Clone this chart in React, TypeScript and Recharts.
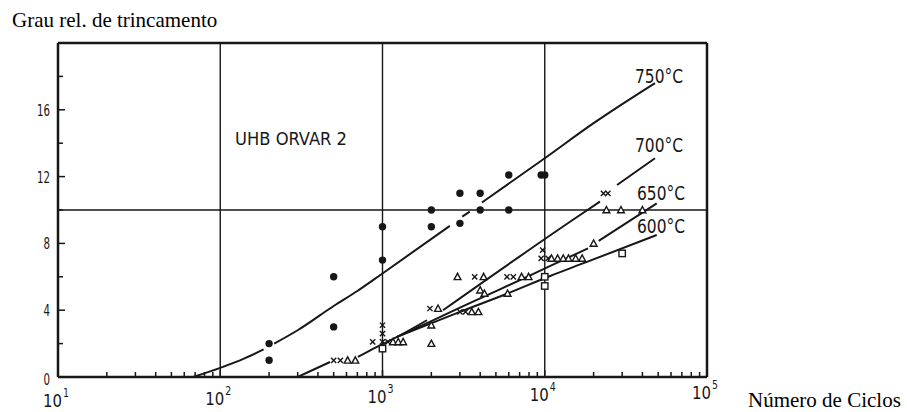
import { ComposedChart, Line, Scatter, XAxis, YAxis, ReferenceLine } from 'recharts'

const ink = '#171717'
const numFont = "'DejaVu Sans Condensed', 'Liberation Sans Narrow', 'DejaVu Sans', sans-serif"
const serif = "'Liberation Serif', 'Times New Roman', serif"

// axes
const xMajor = [10, 100, 1000, 10000, 100000]
const xExponents = ['1', '2', '3', '4', '5']
const xMinorSteps = [2, 3, 4, 5, 6, 7, 8, 9]
const yTicks = [0, 2, 4, 6, 8, 10, 12, 14, 16, 18]
const yLabels = [0, 4, 8, 12, 16]
const gridX = [100, 1000, 10000]
const gridY = [10]

const xTicks = [...xMajor, ...xMajor.slice(0, 4).flatMap(d => xMinorSteps.map(s => d * s))].sort((a, b) => a - b)

// fitted curves, null = gap in the drawn line
const curve750: [number, number | null][] = [
  [68, 0], [100, 0.55], [140, 1.1], [185, 1.65], [200, null], [215, 2.0], [300, 2.8], [500, 4.25],
  [700, 5.15], [1000, 6.2], [2600, 9.05], [2800, null], [3100, 9.6], [3450, 9.9], [3800, null],
  [4100, 10.45], [10000, 13.1], [20000, 15.2], [47800, 17.6],
]
const curve700: [number, number | null][] = [
  [300, 0], [475, 0.9], [600, null], [706, 1.2], [925, 1.8], [1230, 2.4], [1880, 3.4], [2100, null],
  [2360, 4.0], [16500, 9.7], [21900, 10.5], [24000, null], [27900, 11.5], [47800, 13.1],
]
const curve650: [number, number | null][] = [
  [1230, 2.4], [2000, 3.35], [3500, 4.45], [8200, 6.1], [12900, 7.0], [18500, 7.7], [20000, null],
  [21500, 8.15], [49000, 10.4],
]
const curve600: [number, number | null][] = [
  [1230, 2.4], [3000, 3.9], [5900, 5.0], [10800, 6.05], [17200, 6.8], [49000, 8.5],
]

// measured points
const dots750: [number, number][] = [
  [200, 1], [200, 2], [500, 3], [500, 6], [1000, 7], [1000, 9], [2000, 9], [2000, 10], [3000, 9.2],
  [3000, 11], [4000, 10], [4000, 11], [6000, 10], [6000, 12.1], [9500, 12.1], [10000, 12.1],
]
const crosses700: [number, number][] = [
  [500, 1.0], [550, 1.0], [870, 2.1], [1000, 2.1], [1000, 2.6], [1000, 3.1], [1080, 2.1], [1960, 4.1],
  [3000, 3.9], [3250, 3.9], [3700, 6.0], [5850, 6.0], [6400, 6.0], [9500, 7.1], [9700, 7.6],
  [10500, 7.1], [23000, 11], [24500, 11],
]
const triangles650: [number, number][] = [
  [610, 1.0], [680, 1.0], [1160, 2.1], [1250, 2.1], [1340, 2.1], [2000, 2.0], [2000, 3.1], [2200, 4.1],
  [2900, 6.0], [3550, 3.9], [3900, 3.9], [4000, 5.2], [4250, 5.0], [4200, 6.0], [5900, 5.0],
  [7200, 6.0], [7950, 6.0], [11000, 7.1], [12000, 7.1], [13000, 7.1], [14000, 7.1], [15500, 7.1],
  [17000, 7.1], [20000, 8.0], [24000, 10], [29500, 10], [40000, 10],
]
const squares600: [number, number][] = [
  [1000, 1.7], [10000, 6.0], [10000, 5.45], [30000, 7.4],
]

const pts = (a: [number, number | null][]) => a.map(([x, y]) => ({ x, y }))

const Dot = (p: any) => <circle cx={p.cx} cy={p.cy} r={3.7} fill={ink} />
const Cross = (p: any) => {
  const s = 2.6
  return <path d={`M${p.cx - s},${p.cy - s}L${p.cx + s},${p.cy + s}M${p.cx + s},${p.cy - s}L${p.cx - s},${p.cy + s}`} stroke={ink} strokeWidth={1.4} />
}
const Tri = (p: any) => (
  <path d={`M${p.cx},${p.cy - 3.5}L${p.cx + 3.4},${p.cy + 2.8}L${p.cx - 3.4},${p.cy + 2.8}Z`} fill="#fff" stroke={ink} strokeWidth={1.4} />
)
const Square = (p: any) => (
  <rect x={p.cx - 3.2} y={p.cy - 3.2} width={6.4} height={6.4} fill="#fff" stroke={ink} strokeWidth={1.4} />
)

const XTick = (p: any) => {
  const v = p.payload.value
  const i = xMajor.indexOf(v)
  const base = p.y + 30 - 2 * i
  return (
    <g>
      {v > 10 && v < 100000 && (
        <line x1={p.x} x2={p.x} y1={p.y} y2={p.y - (i >= 0 ? 7 : 5)} stroke={ink} strokeWidth={1.5} />
      )}
      {i >= 0 && (
        <>
          <text x={p.x - 15} y={base} fontFamily={numFont} fill={ink} fontSize={18}
            textLength={19} lengthAdjust="spacingAndGlyphs">10</text>
          <text x={p.x + 5} y={base - 10} fontFamily={numFont} fill={ink} fontSize={12}
            textLength={6} lengthAdjust="spacingAndGlyphs">{xExponents[i]}</text>
        </>
      )}
    </g>
  )
}

const YTick = (p: any) => {
  const v = p.payload.value
  const major = yLabels.includes(v)
  const label = String(v)
  return (
    <g>
      {v > 0 && <line x1={p.x} x2={p.x + (major ? 7 : 5)} y1={p.y} y2={p.y} stroke={ink} strokeWidth={1.5} />}
      {major && (
        <text x={p.x - 8} y={p.y + (v === 0 ? 8 : 6)} textAnchor="end" fontFamily={numFont} fontSize={16} fill={ink}
          textLength={label.length * 6.5} lengthAdjust="spacingAndGlyphs">
          {label}
        </text>
      )}
    </g>
  )
}

const tempLabels = ['750°C', '700°C', '650°C', '600°C']
const tempLabelPos = [[635, 83], [635, 152], [637, 200], [637, 233]]

export default function App() {
  return (
    <div style={{ position: 'absolute', left: 0, top: 0, width: 907, height: 412, background: '#fff' }}>
      <ComposedChart width={907} height={412} margin={{ top: 43, right: 200, bottom: 0, left: 18 }}>
        <XAxis
          type="number" dataKey="x" scale="log" domain={[10, 100000]} allowDataOverflow
          ticks={xTicks} interval={0} height={35} tickSize={0} tickMargin={0} tickLine={false}
          axisLine={{ stroke: ink, strokeWidth: 2.5 }} tick={(p: any) => <XTick {...p} />}
        />
        <YAxis
          type="number" dataKey="y" domain={[0, 20]} allowDataOverflow
          ticks={yTicks} interval={0} width={40} tickSize={0} tickMargin={0} tickLine={false}
          axisLine={{ stroke: ink, strokeWidth: 2.5 }} tick={(p: any) => <YTick {...p} />}
        />
        {gridX.map(v => <ReferenceLine key={v} x={v} stroke={ink} strokeWidth={1.4} />)}
        {gridY.map(v => <ReferenceLine key={v} y={v} stroke={ink} strokeWidth={1.4} />)}
        <ReferenceLine y={20} stroke={ink} strokeWidth={2.5} />
        <ReferenceLine x={100000} stroke={ink} strokeWidth={2.5} />

        {[curve750, curve700, curve650, curve600].map((c, k) => (
          <Line key={k} data={pts(c)} dataKey="y" type="monotone" stroke={ink} strokeWidth={2}
            dot={false} connectNulls={false} isAnimationActive={false} />
        ))}

        <Scatter data={pts(dots750)} dataKey="y" shape={Dot} isAnimationActive={false} />
        <Scatter data={pts(crosses700)} dataKey="y" shape={Cross} isAnimationActive={false} />
        <Scatter data={pts(triangles650)} dataKey="y" shape={Tri} isAnimationActive={false} />
        <Scatter data={pts(squares600)} dataKey="y" shape={Square} isAnimationActive={false} />
      </ComposedChart>

      <svg width={907} height={412} style={{ position: 'absolute', left: 0, top: 0, pointerEvents: 'none' }}>
        <text x={12} y={27} fontFamily={serif} fontSize={21} fill="#000">Grau rel. de trincamento</text>
        <text x={748} y={407} fontFamily={serif} fontSize={21} fill="#000">Número de Ciclos</text>
        <text x={235} y={145} fontFamily={numFont} fontSize={18} fill={ink} textLength={112} lengthAdjust="spacingAndGlyphs">
          UHB ORVAR 2
        </text>
        {tempLabels.map((t, i) => (
          <text key={t} x={tempLabelPos[i][0]} y={tempLabelPos[i][1]} fontFamily={numFont} fontSize={20}
            fill={ink} textLength={48} lengthAdjust="spacingAndGlyphs">{t}</text>
        ))}
      </svg>
    </div>
  )
}
